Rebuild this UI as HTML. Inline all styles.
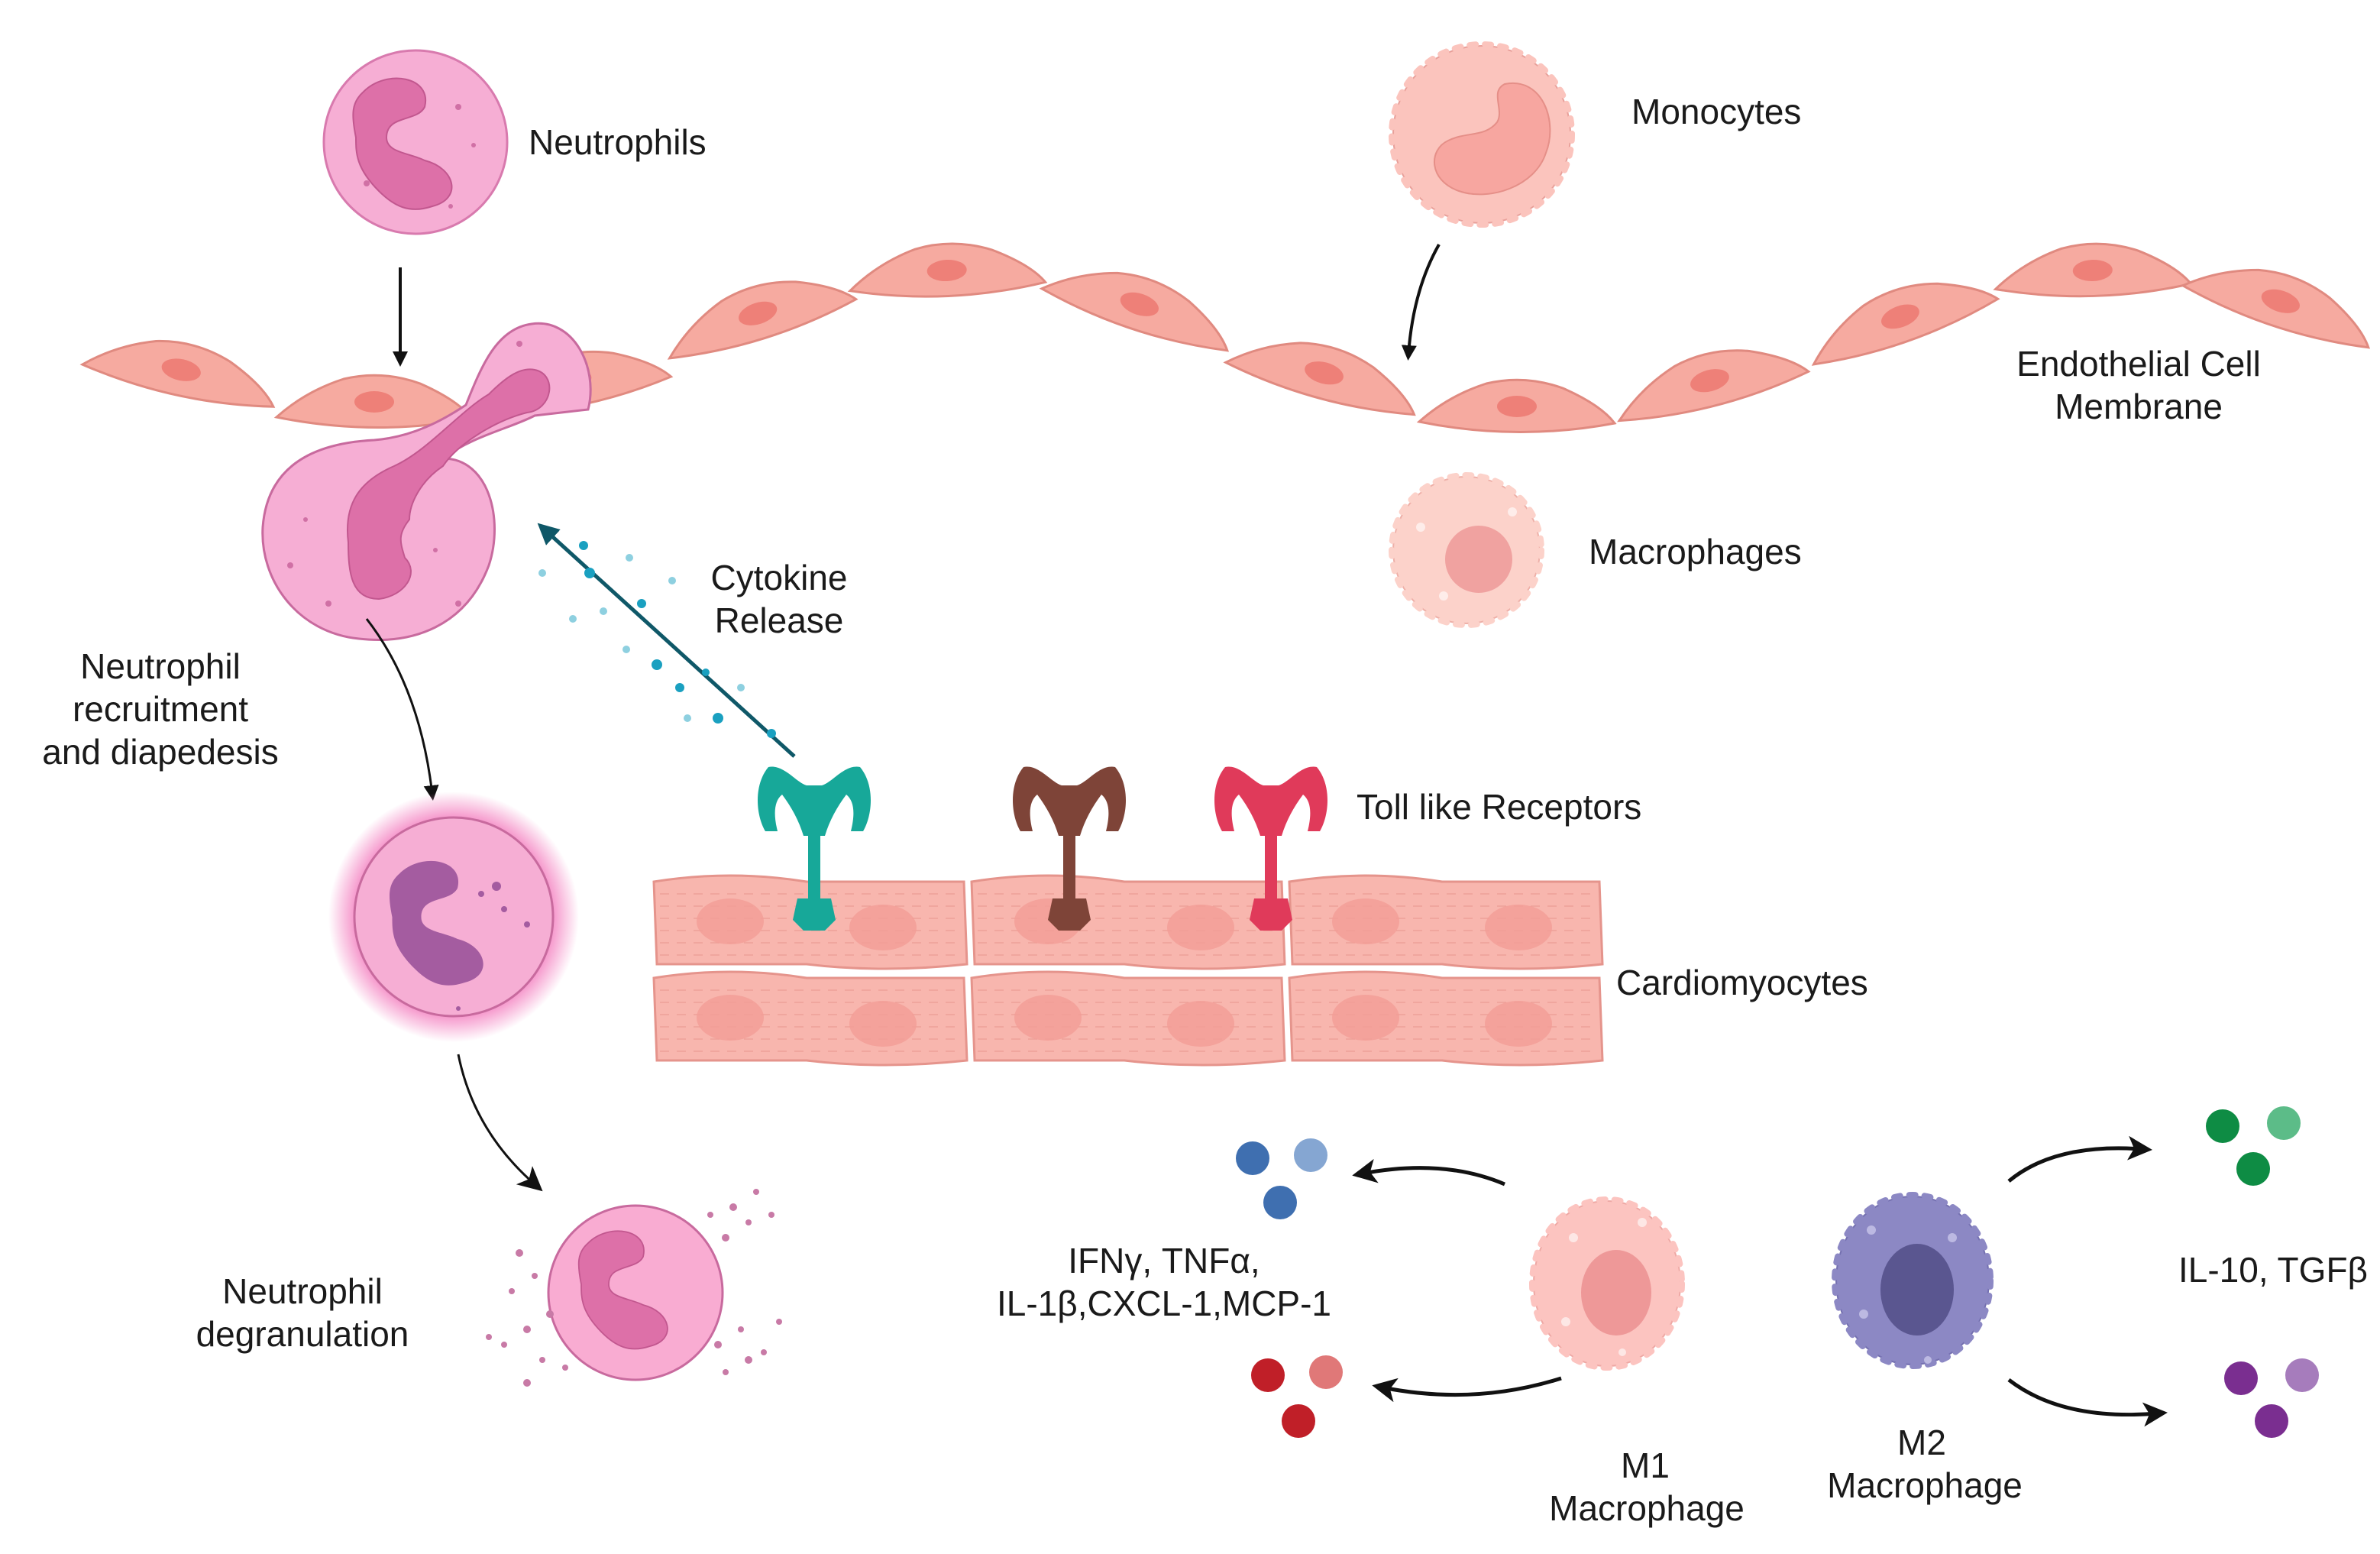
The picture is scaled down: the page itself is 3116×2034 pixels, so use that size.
<!DOCTYPE html>
<html><head><meta charset="utf-8"><style>
html,body{margin:0;padding:0;background:#fff;}
svg{display:block;}
text{font-family:"Liberation Sans",sans-serif;font-size:23px;fill:#1a1a1a;}
</style></head><body>
<svg width="3116" height="2034" viewBox="0 0 1558 1017" xmlns="http://www.w3.org/2000/svg">
<defs>
<marker id="ah" markerWidth="10" markerHeight="10" refX="6" refY="5" orient="auto" markerUnits="userSpaceOnUse">
<path d="M0,0 L10,5 L0,10 Z" fill="#111"/></marker>
<marker id="ah2" markerWidth="16" markerHeight="16" refX="9" refY="8" orient="auto" markerUnits="userSpaceOnUse">
<path d="M0,0 L16,8 L0,16 L4,8 Z" fill="#111"/></marker>
<marker id="aht" markerWidth="14" markerHeight="14" refX="7" refY="7" orient="auto" markerUnits="userSpaceOnUse">
<path d="M0,0 L14,7 L0,14 Z" fill="#0f5868"/></marker>
<radialGradient id="glow"><stop offset="0.8" stop-color="#f590c8" stop-opacity="0.9"/><stop offset="1" stop-color="#f590c8" stop-opacity="0"/></radialGradient>
<path id="nuc" d="M-30,-35 C-15,-50 15,-45 10,-25 C5,-15 -15,-20 -15,-5 C-15,5 0,5 10,10 C30,15 35,35 15,40 C0,45 -10,40 -20,30 C-35,15 -35,5 -35,-5 C-38,-20 -38,-28 -30,-35Z"/>
<g id="endo">
<path d="M-64,7 Q-45,-10 -20,-18 Q5,-24 30,-15 Q55,-4 64,8 Q0,20 -64,7Z" fill="#f6aaa0" stroke="#e08a80" stroke-width="1.5"/>
<ellipse cx="0" cy="-3" rx="13" ry="7" fill="#ee8078"/>
</g>
<g id="tlr">
<path d="M-4,20 L-4,70 L4,70 L4,20 Z"/>
<path d="M-5,-8 C-12,-10 -20,-22 -30,-20 C-40,-8 -38,12 -32,22 L-24,22 C-27,10 -26,2 -21,-2 C-15,6 -10,15 -7,25 L7,25 C10,15 15,6 21,-2 C26,2 27,10 24,22 L32,22 C38,12 40,-8 30,-20 C20,-22 12,-10 5,-8 Z"/>
<path d="M-11,66 L11,66 L14,80 L7,87 L-7,87 L-14,80 Z"/>
</g>
<g id="cm">
<path d="M0,4 Q50,-4 100,4 L203,4 L205,58 Q150,64 100,58 L2,58 Z" fill="#f8b6ae" stroke="#e5948c" stroke-width="1.5"/>
<g stroke="#eea098" stroke-width="0.8" stroke-dasharray="6 5">
<line x1="4" y1="12" x2="200" y2="12"/><line x1="4" y1="20" x2="200" y2="20"/><line x1="4" y1="28" x2="200" y2="28"/><line x1="4" y1="36" x2="200" y2="36"/><line x1="4" y1="44" x2="200" y2="44"/><line x1="4" y1="52" x2="200" y2="52"/></g>
<ellipse cx="50" cy="30" rx="22" ry="15" fill="#f29e96" opacity="0.8"/>
<ellipse cx="150" cy="34" rx="22" ry="15" fill="#f29e96" opacity="0.8"/>
</g>
</defs>

<circle cx="272" cy="93" r="60" fill="#f6aed4" stroke="#d87aae" stroke-width="1.5"/>
<use href="#nuc" transform="translate(268,95)" fill="#dd70a8" stroke="#c2578f"/>
<g fill="#d070a5"><circle cx="300" cy="70" r="2"/><circle cx="310" cy="95" r="1.5"/><circle cx="240" cy="120" r="2"/><circle cx="295" cy="135" r="1.5"/></g>
<text x="346" y="101">Neutrophils</text>
<line x1="262" y1="175" x2="262" y2="236" stroke="#111" stroke-width="2" marker-end="url(#ah)"/>

<circle cx="970" cy="88" r="58" fill="#fbc4bd" stroke="#e8a09a" stroke-width="1"/>
<circle cx="970" cy="88" r="59" fill="none" stroke="#fbc4bd" stroke-width="4" stroke-dasharray="4 6" stroke-linecap="round"/>
<path d="M985,55 C1010,50 1020,80 1012,100 C1005,122 975,132 955,125 C935,118 935,98 948,92 C960,86 972,90 980,80 C985,72 975,60 985,55Z" fill="#f7a6a0" stroke="#e58f88"/>
<text x="1068" y="81">Monocytes</text>
<path d="M942,160 Q925,190 922,232" fill="none" stroke="#111" stroke-width="2" marker-end="url(#ah)"/>

<use href="#endo" transform="translate(118,245) rotate(12)"/>
<use href="#endo" transform="translate(245,266) rotate(0)"/>
<use href="#endo" transform="translate(375,252) rotate(-12)"/>
<use href="#endo" transform="translate(497,208) rotate(-18)"/>
<use href="#endo" transform="translate(620,180) rotate(-3)"/>
<use href="#endo" transform="translate(745,202) rotate(18)"/>
<use href="#endo" transform="translate(866,247) rotate(15)"/>
<use href="#endo" transform="translate(993,269) rotate(0)"/>
<use href="#endo" transform="translate(1120,252) rotate(-15)"/>
<use href="#endo" transform="translate(1245,210) rotate(-20)"/>
<use href="#endo" transform="translate(1370,180) rotate(-2)"/>
<use href="#endo" transform="translate(1492,200) rotate(18)"/>
<text x="1400" y="246" text-anchor="middle">Endothelial Cell</text>
<text x="1400" y="274" text-anchor="middle">Membrane</text>

<path d="M348,212 C375,208 392,240 385,268 L350,272 C335,280 310,285 290,300 C320,300 330,340 320,370 C305,410 270,422 235,418 C195,414 170,380 172,345 C175,305 205,290 245,288 C270,286 290,275 305,265 C315,240 325,215 348,212Z" fill="#f6aed4" stroke="#c86a9e" stroke-width="1.5"/>
<path d="M350,242 C365,245 362,268 345,270 C325,275 300,290 290,305 C275,315 268,330 268,340 C260,350 262,355 265,365 C275,375 265,390 248,392 C230,392 228,375 228,355 C225,330 235,315 258,305 C280,295 300,270 320,258 C330,248 340,240 350,242Z" fill="#dd70a8" stroke="#c2578f"/>
<g fill="#d070a5"><circle cx="190" cy="370" r="2"/><circle cx="200" cy="340" r="1.5"/><circle cx="215" cy="395" r="2"/><circle cx="285" cy="360" r="1.5"/><circle cx="300" cy="395" r="2"/><circle cx="340" cy="225" r="2"/></g>

<line x1="520" y1="495" x2="357" y2="347" stroke="#0f5868" stroke-width="2.5" marker-end="url(#aht)"/>
<g fill="#1aa0c0"><circle cx="382" cy="357" r="3"/><circle cx="386" cy="375" r="3.5"/><circle cx="420" cy="395" r="3"/><circle cx="430" cy="435" r="3.5"/><circle cx="445" cy="450" r="3"/><circle cx="470" cy="470" r="3.5"/><circle cx="505" cy="480" r="3"/><circle cx="462" cy="440" r="2.5"/></g>
<g fill="#8ed0e0"><circle cx="355" cy="375" r="2.5"/><circle cx="375" cy="405" r="2.5"/><circle cx="395" cy="400" r="2.5"/><circle cx="410" cy="425" r="2.5"/><circle cx="450" cy="470" r="2.5"/><circle cx="485" cy="450" r="2.5"/><circle cx="440" cy="380" r="2.5"/><circle cx="412" cy="365" r="2.5"/></g>
<text x="510" y="386" text-anchor="middle">Cytokine</text>
<text x="510" y="414" text-anchor="middle">Release</text>

<circle cx="960" cy="360" r="48" fill="#fcd2ca" stroke="#eeb0a8" stroke-width="1"/>
<circle cx="960" cy="360" r="49" fill="none" stroke="#fcd2ca" stroke-width="4" stroke-dasharray="4 6" stroke-linecap="round"/>
<circle cx="968" cy="366" r="22" fill="#f0a2a0"/>
<g fill="#fff" opacity="0.6"><circle cx="930" cy="345" r="3"/><circle cx="990" cy="335" r="3"/><circle cx="945" cy="390" r="3"/></g>
<text x="1040" y="369">Macrophages</text>

<text x="105" y="444" text-anchor="middle">Neutrophil</text>
<text x="105" y="472" text-anchor="middle">recruitment</text>
<text x="105" y="500" text-anchor="middle">and diapedesis</text>
<path d="M240,405 Q275,450 283,520" fill="none" stroke="#111" stroke-width="1.5" marker-end="url(#ah)"/>

<circle cx="297" cy="600" r="82" fill="url(#glow)"/>
<circle cx="297" cy="600" r="65" fill="#f6aed4" stroke="#c86a9e" stroke-width="1.5"/>
<use href="#nuc" transform="translate(290,605) scale(0.95)" fill="#a45ca0"/>
<g fill="#a45ca0"><circle cx="325" cy="580" r="3"/><circle cx="315" cy="585" r="2"/><circle cx="330" cy="595" r="2"/><circle cx="345" cy="605" r="2"/><circle cx="270" cy="620" r="2"/><circle cx="300" cy="660" r="1.5"/></g>
<path d="M300,690 Q310,740 350,775" fill="none" stroke="#111" stroke-width="1.5" marker-end="url(#ah2)"/>

<circle cx="416" cy="846" r="57" fill="#f9acd2" stroke="#c86a9e" stroke-width="1.5"/>
<use href="#nuc" transform="translate(412,845) scale(0.9)" fill="#dd70a8" stroke="#c2578f"/>
<g fill="#c87aa6">
<circle cx="340" cy="820" r="2.5"/><circle cx="335" cy="845" r="2"/><circle cx="350" cy="835" r="2"/><circle cx="345" cy="870" r="2.5"/><circle cx="330" cy="880" r="2"/><circle cx="355" cy="890" r="2"/><circle cx="360" cy="860" r="2.5"/><circle cx="320" cy="875" r="2"/><circle cx="345" cy="905" r="2.5"/><circle cx="370" cy="895" r="2"/>
<circle cx="480" cy="790" r="2.5"/><circle cx="490" cy="800" r="2"/><circle cx="475" cy="810" r="2.5"/><circle cx="495" cy="780" r="2"/><circle cx="505" cy="795" r="2"/><circle cx="465" cy="795" r="2"/>
<circle cx="470" cy="880" r="2.5"/><circle cx="485" cy="870" r="2"/><circle cx="490" cy="890" r="2.5"/><circle cx="475" cy="898" r="2"/><circle cx="500" cy="885" r="2"/><circle cx="510" cy="865" r="2"/></g>
<text x="198" y="853" text-anchor="middle">Neutrophil</text>
<text x="198" y="881" text-anchor="middle">degranulation</text>

<use href="#cm" transform="translate(428,573)"/>
<use href="#cm" transform="translate(636,573)"/>
<use href="#cm" transform="translate(844,573)"/>
<use href="#cm" transform="translate(428,636)"/>
<use href="#cm" transform="translate(636,636)"/>
<use href="#cm" transform="translate(844,636)"/>
<use href="#tlr" transform="translate(533,522)" fill="#17a899"/>
<use href="#tlr" transform="translate(700,522)" fill="#7e4438"/>
<use href="#tlr" transform="translate(832,522)" fill="#e03a5a"/>
<text x="888" y="536">Toll like Receptors</text>
<text x="1058" y="651">Cardiomyocytes</text>

<circle cx="820" cy="758" r="11" fill="#3f6fb0"/><circle cx="858" cy="756" r="11" fill="#85a6d2"/><circle cx="838" cy="787" r="11" fill="#3f6fb0"/>
<circle cx="830" cy="900" r="11" fill="#c01f28"/><circle cx="868" cy="898" r="11" fill="#e07878"/><circle cx="850" cy="930" r="11" fill="#c01f28"/>
<circle cx="1455" cy="737" r="11" fill="#0e8c44"/><circle cx="1495" cy="735" r="11" fill="#5cbc88"/><circle cx="1475" cy="765" r="11" fill="#0e8c44"/>
<circle cx="1467" cy="902" r="11" fill="#7a2e90"/><circle cx="1507" cy="900" r="11" fill="#a67cbc"/><circle cx="1487" cy="930" r="11" fill="#7a2e90"/>
<text x="762" y="833" text-anchor="middle">IFNγ, TNFα,</text>
<text x="762" y="861" text-anchor="middle">IL-1β,CXCL-1,MCP-1</text>
<text x="1488" y="839" text-anchor="middle">IL-10, TGFβ</text>

<ellipse cx="1052" cy="840" rx="48" ry="54" fill="#fcc4c0" stroke="#eea8a4" stroke-width="1"/>
<ellipse cx="1052" cy="840" rx="49" ry="55" fill="none" stroke="#fcc4c0" stroke-width="4" stroke-dasharray="4 6" stroke-linecap="round"/>
<ellipse cx="1058" cy="846" rx="23" ry="28" fill="#ee9898"/>
<ellipse cx="1252" cy="838" rx="50" ry="55" fill="#8c88c4" stroke="#7470b0" stroke-width="1"/>
<ellipse cx="1252" cy="838" rx="51" ry="56" fill="none" stroke="#8c88c4" stroke-width="4" stroke-dasharray="4 6" stroke-linecap="round"/>
<ellipse cx="1255" cy="844" rx="24" ry="30" fill="#5a5690"/>
<g fill="#c8c6ea" opacity="0.8"><circle cx="1225" cy="805" r="3"/><circle cx="1278" cy="810" r="3"/><circle cx="1220" cy="860" r="3"/><circle cx="1262" cy="890" r="2.5"/></g>
<g fill="#fff" opacity="0.6"><circle cx="1030" cy="810" r="3"/><circle cx="1075" cy="800" r="3"/><circle cx="1025" cy="865" r="3"/><circle cx="1062" cy="885" r="2.5"/></g>
<text x="1077" y="967" text-anchor="middle">M1</text>
<text x="1078" y="995" text-anchor="middle">Macrophage</text>
<text x="1258" y="952" text-anchor="middle">M2</text>
<text x="1260" y="980" text-anchor="middle">Macrophage</text>

<path d="M985,775 Q945,758 892,768" fill="none" stroke="#111" stroke-width="2.5" marker-end="url(#ah2)"/>
<path d="M1022,902 Q965,920 905,908" fill="none" stroke="#111" stroke-width="2.5" marker-end="url(#ah2)"/>
<path d="M1315,773 Q1345,748 1402,752" fill="none" stroke="#111" stroke-width="2.5" marker-end="url(#ah2)"/>
<path d="M1315,903 Q1350,930 1412,925" fill="none" stroke="#111" stroke-width="2.5" marker-end="url(#ah2)"/>
</svg>
</body></html>
